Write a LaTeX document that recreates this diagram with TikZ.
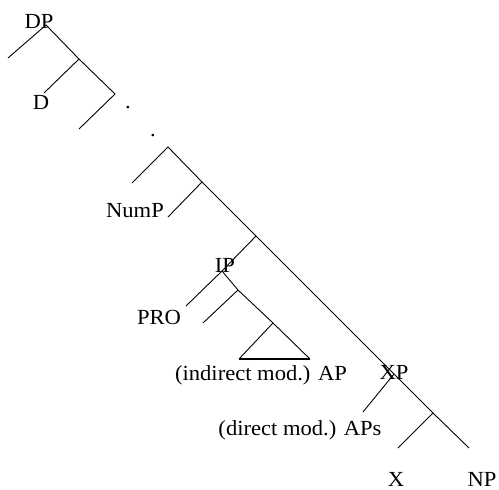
\documentclass[tikz,border=0pt]{standalone}
\usepackage{fontspec}
\setmainfont{Liberation Serif}[FakeStretch=1.05]

\begin{document}
\begin{tikzpicture}[
    x=1pt, y=-1pt,
    branch/.style={line width=0.9pt},
    flat/.style={line width=2pt},
    cat/.style={inner sep=0pt, anchor=base, font=\fontsize{21.5}{24}\selectfont}
]
    \useasboundingbox (0,0) rectangle (499,490);

    % DP spine
    \coordinate (dp) at (46,25);
    \coordinate (dpspec) at (8,58);
    \coordinate (dbar) at (79,59);
    \coordinate (dhead) at (44,93);
    \coordinate (lower) at (115,94);
    \coordinate (lowerspec) at (79,129);

    % NumP part
    \coordinate (top) at (168,147);
    \coordinate (topspec) at (132,183);
    \coordinate (nbar) at (202,182);
    \coordinate (numspec) at (168,217);
    \coordinate (mid) at (256,236);

    % IP with the triangle
    \coordinate (ip) at (222,271);
    \coordinate (prospec) at (186,306);
    \coordinate (ibar) at (238,290);
    \coordinate (ihead) at (203,323);
    \coordinate (ap) at (273,323);
    \coordinate (apleft) at (239,359);
    \coordinate (apright) at (310,359);

    % XP
    \coordinate (xp) at (394,374);
    \coordinate (xpspec) at (363,412);
    \coordinate (xbar) at (433,413);
    \coordinate (xhead) at (398,448);
    \coordinate (np) at (469,448);

    % Labels
    \node[cat] (dplab) at (39,28) {DP};
    \node[cat] (dlab) at (41,109) {D};
    \node[cat] (dot1) at (128,108) {.};
    \node[cat] (dot2) at (153,136) {.};
    \node[cat] (numlab) at (135,217) {NumP};
    \node[cat] (iplab) at (225,272) {IP};
    \node[cat] (prolab) at (159,324) {PRO};
    \node[cat] (aplab) at (261,380) {(indirect mod.) AP};
    \node[cat] (xplab) at (394,379) {XP};
    \node[cat] (apslab) at (300,435) {(direct mod.) APs};
    \node[cat] (xlab) at (396,486) {X};
    \node[cat] (nplab) at (482,486) {NP};

    % Branches
    \draw[branch] (dpspec) -- (dp) -- (dbar) -- (lower) -- (lowerspec);
    \draw[branch] (dbar) -- (dhead);
    \draw[branch] (topspec) -- (top) -- (nbar) -- (mid) -- (xp) -- (xbar) -- (np);
    \draw[branch] (nbar) -- (numspec);
    \draw[branch] (mid) -- (ip) -- (prospec);
    \draw[branch] (ip) -- (ibar) -- (ap);
    \draw[branch] (ibar) -- (ihead);
    \draw[branch] (apleft) -- (ap) -- (apright);
    \draw[flat] (apleft) -- (apright);
    \draw[branch] (xp) -- (xpspec);
    \draw[branch] (xbar) -- (xhead);
\end{tikzpicture}
\end{document}
